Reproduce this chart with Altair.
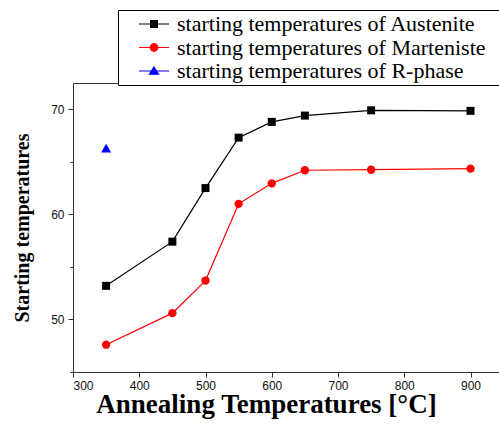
import altair as alt
import pandas as pd

# ---- data ----
anneal_temps = [350, 450, 500, 550, 600, 650, 750, 900]
austenite = [53.2, 57.4, 62.5, 67.3, 68.8, 69.4, 69.9, 69.85]
martensite = [47.6, 50.6, 53.7, 61.0, 62.95, 64.2, 64.25, 64.35]
rphase_temps = [350]
rphase = [66.3]

names = [
    "starting temperatures of Austenite",
    "starting temperatures of Marteniste",
    "starting temperatures of R-phase",
]
colors = ["#000000", "#ff0000", "#0000ff"]

rows = []
for t, v in zip(anneal_temps, austenite):
    rows.append({"x": t, "y": v, "series": names[0]})
for t, v in zip(anneal_temps, martensite):
    rows.append({"x": t, "y": v, "series": names[1]})
for t, v in zip(rphase_temps, rphase):
    rows.append({"x": t, "y": v, "series": names[2]})
df = pd.DataFrame(rows)

W, H = 426, 289

x_enc = alt.X(
    "x:Q",
    scale=alt.Scale(domain=[300, 943], nice=False, zero=False),
    axis=alt.Axis(
        values=list(range(300, 951, 50)),
        labelExpr="datum.value % 100 === 0 ? datum.label : ''",
        format="d",
        tickSize={"condition": {"test": "datum.value % 100 === 0", "value": 5}, "value": 3},
        grid=False,
        domainColor="#333333",
        tickColor="#333333",
        labelFont="Liberation Sans",
        labelFontSize=12,
        labelColor="#111111",
        labelPadding=3,
        title="Annealing Temperatures [°C]",
        titleFont="Liberation Serif",
        titleFontWeight="bold",
        titleFontSize=27,
        titleColor="#000000",
        titleX=193,
        titleY=40,
        titleBaseline="alphabetic",
        titleAlign="center",
    ),
)
y_enc = alt.Y(
    "y:Q",
    scale=alt.Scale(domain=[45, 72.5], nice=False, zero=False),
    axis=alt.Axis(
        values=[45, 50, 55, 60, 65, 70],
        labelExpr="datum.value % 10 === 0 ? datum.label : ''",
        tickSize={"condition": {"test": "datum.value % 10 === 0", "value": 5}, "value": 3},
        grid=False,
        domainColor="#333333",
        tickColor="#333333",
        labelFont="Liberation Sans",
        labelFontSize=12,
        labelColor="#111111",
        labelPadding=4,
        title="Starting temperatures",
        titleFont="Liberation Serif",
        titleFontWeight="bold",
        titleFontSize=20,
        titleColor="#000000",
        titleAngle=270,
        titleX=-45,
        titleY=144.5,
        titleBaseline="alphabetic",
        titleAlign="center",
    ),
)

base = alt.Chart(df)

line_a = base.transform_filter(alt.datum.series == names[0]).mark_line(
    strokeWidth=1.2, color=colors[0]
).encode(x=x_enc, y=y_enc)

line_m = base.transform_filter(alt.datum.series == names[1]).mark_line(
    strokeWidth=1.2, color=colors[1]
).encode(x="x:Q", y="y:Q")

squares = base.transform_filter(alt.datum.series == names[0]).mark_square(
    size=64, opacity=1, color=colors[0]
).encode(x="x:Q", y="y:Q")

circles = base.transform_filter(alt.datum.series == names[1]).mark_circle(
    size=70, opacity=1, color=colors[1]
).encode(x="x:Q", y="y:Q")

triangles = base.transform_filter(alt.datum.series == names[2]).mark_point(
    shape="triangle-up", size=100, filled=True, opacity=1, color=colors[2]
).encode(x="x:Q", y="y:Q")

# legend-only layer: custom symbols with a line through the marker
paths = [
    "M-1.5,0H1.5M-0.34,-0.34H0.34V0.34H-0.34Z",
    "M-1.5,0H1.5M-0.38,0A0.38,0.38,0,1,0,0.38,0A0.38,0.38,0,1,0,-0.38,0Z",
    "M-1.5,0H1.5M0,-0.4L0.45,0.32H-0.45Z",
]
leg = alt.Legend(
    title=None,
    orient="none",
    legendX=45,
    legendY=-73,
    padding=3,
    strokeColor="#000000",
    fillColor="#ffffff",
    symbolSize=400,
    symbolOffset=22,
    symbolStrokeWidth=1.2,
    symbolOpacity=1,
    labelOffset=12,
    labelFont="Liberation Serif",
    labelFontSize=22,
    labelColor="#000000",
    labelLimit=1000,
    rowPadding=1.5,
    labelExpr="datum.label + '\u2800\u2800\u2800'",
)
legend_layer = base.mark_point(size=0, opacity=1, strokeWidth=0).encode(
    x="x:Q", y="y:Q",
    shape=alt.Shape("series:N", scale=alt.Scale(domain=names, range=paths), legend=leg),
    fill=alt.Fill("series:N", scale=alt.Scale(domain=names, range=colors), legend=leg),
    stroke=alt.Stroke("series:N", scale=alt.Scale(domain=names, range=colors), legend=leg),
)

chart = alt.layer(line_a, line_m, squares, circles, triangles, legend_layer).properties(
    width=W,
    height=H,
    autosize=alt.AutoSizeParams(type="none"),
    padding={"left": 73, "top": 83, "right": 0, "bottom": 55},
    background="#ffffff",
).configure_view(stroke="#333333", strokeWidth=1)

chart.save("out.html", embed_options={"renderer": "svg", "actions": False})
